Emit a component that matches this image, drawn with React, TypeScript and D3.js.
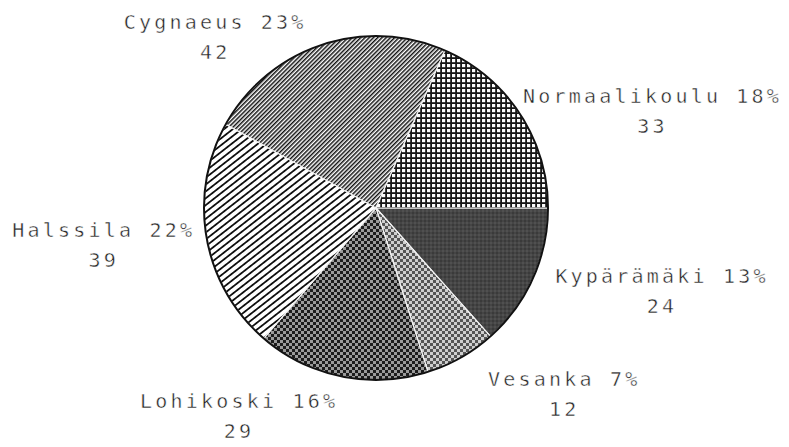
import { useEffect, useRef } from "react";
import * as d3 from "d3";

// slices clockwise from 3 o'clock
const schools = ["Kypärämäki", "Vesanka", "Lohikoski", "Halssila", "Cygnaeus", "Normaalikoulu"];
const counts = [24, 12, 29, 39, 42, 33];
const percents = [13, 7, 16, 22, 23, 18];
const fills = ["url(#dark)", "url(#lightCheck)", "url(#darkCheck)", "url(#wideDiag)", "url(#fineDiag)", "url(#grid)"];

// small hand nudges so labels sit where the plotter put them
const labelNudge: Record<string, [number, number]> = {
  Kypärämäki: [6, -3],
  Vesanka: [18, 13],
  Lohikoski: [-3, 14],
  Halssila: [3, -4],
  Cygnaeus: [-12, 1],
  Normaalikoulu: [-12, -1],
};

const W = 789;
const H = 447;
const FONT = "'DejaVu Sans Mono', monospace";
const FS = 20;
const LS = 3.2;
const ADV = 0.602 * FS + LS;
const LINE_GAP = 30;

export default function App() {
  const svgRef = useRef<SVGSVGElement>(null);

  useEffect(() => {
    if (!svgRef.current) return;
    const svg = d3.select(svgRef.current);
    svg.selectAll("*").remove();

    const cx = 376;
    const cy = 208;
    const r = 172;

    const defs = svg.append("defs");

    // fine diagonal lines (Cygnaeus)
    const p1 = defs.append("pattern").attr("id", "fineDiag").attr("patternUnits", "userSpaceOnUse")
      .attr("width", 10).attr("height", 3).attr("patternTransform", "rotate(-45)");
    p1.append("rect").attr("width", 10).attr("height", 3).attr("fill", "#fff");
    p1.append("rect").attr("width", 10).attr("height", 1.5).attr("fill", "#111");

    // wider diagonal lines (Halssila)
    const p2 = defs.append("pattern").attr("id", "wideDiag").attr("patternUnits", "userSpaceOnUse")
      .attr("width", 10).attr("height", 5.4).attr("patternTransform", "rotate(-38)");
    p2.append("rect").attr("width", 10).attr("height", 5.4).attr("fill", "#fff");
    p2.append("rect").attr("width", 10).attr("height", 1.8).attr("fill", "#111");

    // white squares on black grid (Normaalikoulu)
    const p3 = defs.append("pattern").attr("id", "grid").attr("patternUnits", "userSpaceOnUse")
      .attr("width", 5).attr("height", 5);
    p3.append("rect").attr("width", 5).attr("height", 5).attr("fill", "#151515");
    p3.append("rect").attr("x", 1).attr("y", 1).attr("width", 3.2).attr("height", 3.2).attr("fill", "#fafafa");

    // dark checker (Lohikoski)
    const p4 = defs.append("pattern").attr("id", "darkCheck").attr("patternUnits", "userSpaceOnUse")
      .attr("width", 6).attr("height", 6);
    p4.append("rect").attr("width", 6).attr("height", 6).attr("fill", "#1c1c1c");
    p4.append("rect").attr("width", 3).attr("height", 3).attr("fill", "#9a9a9a");
    p4.append("rect").attr("x", 3).attr("y", 3).attr("width", 3).attr("height", 3).attr("fill", "#9a9a9a");

    // light checker (Vesanka)
    const p5 = defs.append("pattern").attr("id", "lightCheck").attr("patternUnits", "userSpaceOnUse")
      .attr("width", 6).attr("height", 6);
    p5.append("rect").attr("width", 6).attr("height", 6).attr("fill", "#555");
    p5.append("rect").attr("width", 3).attr("height", 3).attr("fill", "#cfcfcf");
    p5.append("rect").attr("x", 3).attr("y", 3).attr("width", 3).attr("height", 3).attr("fill", "#cfcfcf");

    // noisy dark grey (Kypärämäki)
    const p6 = defs.append("pattern").attr("id", "dark").attr("patternUnits", "userSpaceOnUse")
      .attr("width", 4).attr("height", 4);
    p6.append("rect").attr("width", 4).attr("height", 4).attr("fill", "#454545");
    p6.append("rect").attr("width", 2).attr("height", 2).attr("fill", "#3a3a3a");
    p6.append("rect").attr("x", 2).attr("y", 2).attr("width", 2).attr("height", 2).attr("fill", "#505050");

    const pie = d3.pie<number>().sort(null).value((d) => d)
      .startAngle(Math.PI / 2).endAngle(Math.PI / 2 + 2 * Math.PI);
    const arcs = pie(counts);
    const arc = d3.arc<d3.PieArcDatum<number>>().innerRadius(0).outerRadius(r);

    const g = svg.append("g").attr("transform", `translate(${cx},${cy})`);

    g.selectAll("path.slice")
      .data(arcs)
      .enter()
      .append("path")
      .attr("class", "slice")
      .attr("d", arc)
      .attr("fill", (_d, i) => fills[i])
      .attr("stroke", "#f4f4f4")
      .attr("stroke-width", 1.2);

    g.append("circle").attr("r", r).attr("fill", "none").attr("stroke", "#111").attr("stroke-width", 2);

    // labels
    const R = 190;
    const addText = (x: number, y: number, s: string) =>
      g.append("text")
        .attr("x", x)
        .attr("y", y)
        .attr("text-anchor", "middle")
        .attr("font-family", FONT)
        .attr("font-size", FS)
        .attr("letter-spacing", LS)
        .attr("fill", "#222")
        .attr("stroke", "#fff")
        .attr("stroke-width", 0.45)
        .text(s);

    arcs.forEach((a, i) => {
      const mid = (a.startAngle + a.endAngle) / 2;
      const px = Math.sin(mid) * R;
      const py = -Math.cos(mid) * R;
      const name = schools[i];
      const line1 = `${name} ${percents[i]}%`;
      const w = line1.length * ADV - LS;
      const right = Math.sin(mid) >= 0;
      const [nx, ny] = labelNudge[name];
      const centerX = (right ? px + w / 2 : px - w / 2) + nx + LS / 2;
      const base = py + ny;

      addText(centerX, base, line1);
      addText(centerX, base + LINE_GAP, String(counts[i]));
    });
  }, []);

  return (
    <svg
      ref={svgRef}
      width={W}
      height={H}
      style={{ position: "absolute", left: 0, top: 0, background: "#fff" }}
    />
  );
}
